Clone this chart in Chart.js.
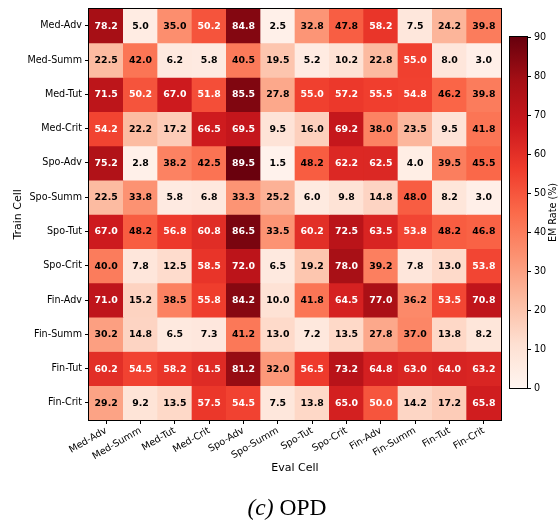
<!DOCTYPE html>
<html><head><meta charset="utf-8">
<script src="https://cdn.jsdelivr.net/npm/chart.js@4"></script>
<style>
html,body{margin:0;padding:0;background:#fff;}
#wrap{position:relative;width:558px;height:525px;overflow:hidden;}
#main{position:absolute;left:0;top:0;}
#cbar{position:absolute;left:500px;top:27px;}
#cap{position:absolute;left:8px;top:495px;width:558px;text-align:center;font-family:"Liberation Serif","DejaVu Serif",serif;font-size:23.5px;line-height:24px;color:#000;}
</style></head><body>
<div id="wrap">
<canvas id="main" width="558" height="525"></canvas>
<canvas id="cbar" width="58" height="375"></canvas>
<div id="cap"><i>(c)</i> OPD</div>
</div>
<script>
const evalCells = ["Med-Adv","Med-Summ","Med-Tut","Med-Crit","Spo-Adv","Spo-Summ","Spo-Tut","Spo-Crit","Fin-Adv","Fin-Summ","Fin-Tut","Fin-Crit"];
const trainCells = ["Med-Adv","Med-Summ","Med-Tut","Med-Crit","Spo-Adv","Spo-Summ","Spo-Tut","Spo-Crit","Fin-Adv","Fin-Summ","Fin-Tut","Fin-Crit"];
const medAdv  = [78.2, 5.0, 35.0, 50.2, 84.8, 2.5, 32.8, 47.8, 58.2, 7.5, 24.2, 39.8];
const medSumm = [22.5, 42.0, 6.2, 5.8, 40.5, 19.5, 5.2, 10.2, 22.8, 55.0, 8.0, 3.0];
const medTut  = [71.5, 50.2, 67.0, 51.8, 85.5, 27.8, 55.0, 57.2, 55.5, 54.8, 46.2, 39.8];
const medCrit = [54.2, 22.2, 17.2, 66.5, 69.5, 9.5, 16.0, 69.2, 38.0, 23.5, 9.5, 41.8];
const spoAdv  = [75.2, 2.8, 38.2, 42.5, 89.5, 1.5, 48.2, 62.2, 62.5, 4.0, 39.5, 45.5];
const spoSumm = [22.5, 33.8, 5.8, 6.8, 33.3, 25.2, 6.0, 9.8, 14.8, 48.0, 8.2, 3.0];
const spoTut  = [67.0, 48.2, 56.8, 60.8, 86.5, 33.5, 60.2, 72.5, 63.5, 53.8, 48.2, 46.8];
const spoCrit = [40.0, 7.8, 12.5, 58.5, 72.0, 6.5, 19.2, 78.0, 39.2, 7.8, 13.0, 53.8];
const finAdv  = [71.0, 15.2, 38.5, 55.8, 84.2, 10.0, 41.8, 64.5, 77.0, 36.2, 53.5, 70.8];
const finSumm = [30.2, 14.8, 6.5, 7.3, 41.2, 13.0, 7.2, 13.5, 27.8, 37.0, 13.8, 8.2];
const finTut  = [60.2, 54.5, 58.2, 61.5, 81.2, 32.0, 56.5, 73.2, 64.8, 63.0, 64.0, 63.2];
const finCrit = [29.2, 9.2, 13.5, 57.5, 54.5, 7.5, 13.8, 65.0, 50.0, 14.2, 17.2, 65.8];
const emRows = [medAdv, medSumm, medTut, medCrit, spoAdv, spoSumm, spoTut, spoCrit, finAdv, finSumm, finTut, finCrit];
const cbarTicks = [0, 10, 20, 30, 40, 50, 60, 70, 80, 90];
const vMax = 90;

const REDS = [[255,245,240],[254,224,210],[252,187,161],[252,146,114],[251,106,74],[239,59,44],[203,24,29],[165,15,21],[103,0,13]];
function reds(t){
  t = Math.max(0, Math.min(1, t));
  const p = t * (REDS.length - 1);
  const i = Math.min(REDS.length - 2, Math.floor(p));
  const f = p - i;
  const a = REDS[i], b = REDS[i+1];
  return 'rgb(' + [0,1,2].map(k => Math.round(a[k] + (b[k]-a[k])*f)).join(',') + ')';
}

const FONT = "'DejaVu Sans', sans-serif";
const tickFont = {family: FONT, size: 9.6};

const overlay = {
  id: 'overlay',
  afterDatasetsDraw(chart){
    const ctx = chart.ctx;
    ctx.save();
    ctx.font = "bold 9.4px " + FONT;
    ctx.textAlign = 'center';
    ctx.textBaseline = 'middle';
    chart.data.datasets.forEach((ds, r) => {
      const meta = chart.getDatasetMeta(r);
      meta.data.forEach((el, c) => {
        const v = emRows[r][c];
        ctx.fillStyle = v >= 50 ? '#ffffff' : '#000000';
        ctx.fillText(v.toFixed(1), el.x, (el.y + el.base) / 2 + 0.5);
      });
    });
    const a = chart.chartArea;
    ctx.strokeStyle = '#000';
    ctx.lineWidth = 1;
    ctx.strokeRect(Math.round(a.left) - 0.5, Math.round(a.top) - 0.5, Math.round(a.right - a.left) + 1, Math.round(a.bottom - a.top) + 1);
    ctx.fillStyle = '#000';
    ctx.font = "11px " + FONT;
    ctx.textAlign = 'center';
    ctx.textBaseline = 'middle';
    ctx.fillText('Eval Cell', (a.left + a.right) / 2, 468);
    ctx.save();
    ctx.translate(18, (a.top + a.bottom) / 2);
    ctx.rotate(-Math.PI / 2);
    ctx.fillText('Train Cell', 0, 0);
    ctx.restore();
    ctx.restore();
  }
};

const tickGrid = {drawOnChartArea: false, drawTicks: true, tickLength: 4, color: '#000', lineWidth: 1};

new Chart(document.getElementById('main'), {
  type: 'bar',
  data: {
    labels: evalCells,
    datasets: trainCells.map((t, r) => ({
      label: t,
      data: evalCells.map(() => 1),
      backgroundColor: ctx => reds(emRows[r][ctx.dataIndex] / vMax),
      borderWidth: 0,
      barPercentage: 1,
      categoryPercentage: 1,
      stack: 'grid'
    }))
  },
  options: {
    responsive: false,
    animation: false,
    events: [],
    layout: {padding: {left: 0, top: 5, right: 57, bottom: 0}},
    plugins: {legend: {display: false}, tooltip: {enabled: false}},
    scales: {
      x: {
        type: 'category',
        stacked: true,
        grid: Object.assign({offset: false}, tickGrid),
        border: {display: false},
        ticks: {minRotation: 30, maxRotation: 30, autoSkip: false, font: tickFont, color: '#000', padding: 1},
        afterFit: s => { s.height = 105; }
      },
      y: {
        type: 'linear',
        reverse: true,
        stacked: true,
        min: 0,
        max: trainCells.length,
        grid: tickGrid,
        border: {display: false},
        afterBuildTicks: s => { s.ticks = trainCells.map((_, i) => ({value: i + 0.5})); },
        ticks: {autoSkip: false, font: tickFont, color: '#000', padding: 3, callback: v => trainCells[Math.floor(v)]},
        afterFit: s => { s.width = 89; }
      }
    }
  },
  plugins: [overlay]
});

const cbarOverlay = {
  id: 'cbarOverlay',
  afterDatasetsDraw(chart){
    const ctx = chart.ctx, a = chart.chartArea;
    ctx.save();
    ctx.strokeStyle = '#000';
    ctx.lineWidth = 1;
    ctx.strokeRect(Math.round(a.left) - 0.5, Math.round(a.top) - 0.5, Math.round(a.right - a.left) + 1, Math.round(a.bottom - a.top) + 1);
    ctx.fillStyle = '#000';
    ctx.font = "9.6px " + FONT;
    ctx.textAlign = 'center';
    ctx.textBaseline = 'middle';
    ctx.translate(53, (a.top + a.bottom) / 2);
    ctx.rotate(-Math.PI / 2);
    ctx.fillText('EM Rate (%)', 0, 0);
    ctx.restore();
  }
};

new Chart(document.getElementById('cbar'), {
  type: 'bar',
  data: {
    labels: [''],
    datasets: [{
      data: [[0, vMax]],
      backgroundColor: ctx => {
        const ca = ctx.chart.chartArea;
        if (!ca) return null;
        const g = ctx.chart.ctx.createLinearGradient(0, ca.bottom, 0, ca.top);
        REDS.forEach((c, i) => g.addColorStop(i / (REDS.length - 1), 'rgb(' + c.join(',') + ')'));
        return g;
      },
      borderWidth: 0,
      barPercentage: 1,
      categoryPercentage: 1
    }]
  },
  options: {
    responsive: false,
    animation: false,
    events: [],
    layout: {padding: {left: 10, top: 10, right: 0, bottom: 14}},
    plugins: {legend: {display: false}, tooltip: {enabled: false}},
    scales: {
      x: {display: false},
      y: {
        position: 'right',
        min: 0,
        max: vMax,
        grid: tickGrid,
        border: {display: false},
        afterBuildTicks: s => { s.ticks = cbarTicks.map(v => ({value: v})); },
        ticks: {font: tickFont, color: '#000', padding: 3},
        afterFit: s => { s.width = 31; }
      }
    }
  },
  plugins: [cbarOverlay]
});
</script>
</body></html>
